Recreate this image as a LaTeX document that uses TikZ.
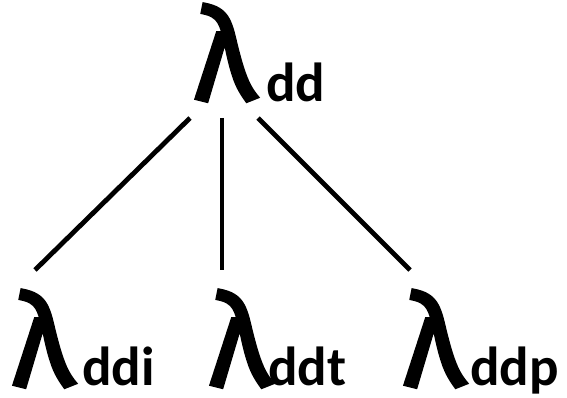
\documentclass[tikz,border=0pt]{standalone}
\usepackage{fontspec}
\setmainfont{Carlito}
\newfontfamily\lamfont[FakeBold=2.2]{Fira Sans}
\begin{document}
\begin{tikzpicture}[x=1pt,y=-1pt,
  lam/.style={anchor=base west,inner sep=0pt,font=\lamfont\fontsize{128}{128}\selectfont},
  sub/.style={anchor=base west,inner sep=0pt,font=\bfseries\fontsize{55}{55}\selectfont},
  edge/.style={line width=4.8pt}]
\useasboundingbox (0,0) rectangle (567,398);
\node[lam] (t) at (193,100) {λ};
\node[sub] (ts) at (266,102) {dd};
\node[lam] (a) at (11,386) {λ};
\node[lam] (b) at (208,386) {λ};
\node[lam] (c) at (402,386) {λ};
\node[sub] (as) at (82,385) {ddi};
\node[sub] (bs) at (268,385) {ddt};
\node[sub] (cs) at (470,385) {ddp};
\coordinate (t1) at (190,118);
\coordinate (t2) at (222,118);
\coordinate (t3) at (258,118);
\coordinate (a1) at (35,270);
\coordinate (b1) at (222,270);
\coordinate (c1) at (410,270);
\draw[edge] (t1) -- (a1);
\draw[edge] (t2) -- (b1);
\draw[edge] (t3) -- (c1);
\end{tikzpicture}
\end{document}
